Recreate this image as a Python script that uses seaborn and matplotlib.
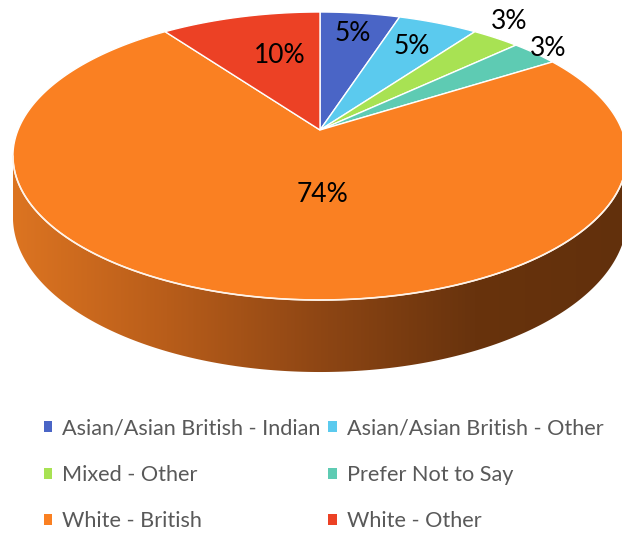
import numpy as np
import matplotlib.pyplot as plt
import seaborn as sns
from matplotlib.patches import Polygon, Patch
from matplotlib.colors import LinearSegmentedColormap

# Ethnicity breakdown (percent of respondents)
categories = ['Asian/Asian British - Indian', 'Asian/Asian British - Other',
              'Mixed - Other', 'Prefer Not to Say', 'White - British', 'White - Other']
shares = [5, 5, 3, 3, 74, 10]
labels = ['5%', '5%', '3%', '3%', '74%', '10%']
colors = ['#4A65C6', '#5BCAEE', '#A8E253', '#5ECBB3', '#FA8022', '#EC4125']

# label placement (radius fraction, angle nudge in degrees)
lab_r = [0.8, 0.75, 1.16, 1.07, 0.43, 0.61]
lab_da = [0, 0, 2.5, 0, 12, -4]

sns.set_style("white")
plt.rcParams['font.family'] = ['Lato', 'DejaVu Sans']

# simple perspective projection of the unit disk (screen pixels, y down)
CX, A_X = 320, 302
A_Y, B_Y, C_P = -115.83, 130, 0.1806
DEPTH = 59


def proj(x, y, z=0.0):
    d = 1 + C_P * y
    return CX + A_X * x / d, (A_Y * y + B_Y) / d + DEPTH * z / d


fig = plt.figure(figsize=(6.22, 5.33), dpi=100)
ax = fig.add_axes([0, 0, 1, 1])
ax.axis('off')

# visible side wall: between the silhouette points sin(t) = -C
t0 = np.pi + np.arcsin(C_P)
t1 = 2 * np.pi - np.arcsin(C_P)
ts = np.linspace(t0, t1, 300)
top = np.array([proj(np.cos(t), np.sin(t)) for t in ts])
bot = np.array([proj(np.cos(t), np.sin(t), 1) for t in ts])
side = Polygon(np.vstack([top, bot[::-1]]), closed=True, facecolor='none', edgecolor='none')
ax.add_patch(side)
side_cmap = LinearSegmentedColormap.from_list(
    'side', ['#DC7421', '#B85D1A', '#8E4614', '#68330D', '#62300C'])
grad = np.linspace(0, 1, 256).reshape(1, -1)
im = ax.imshow(grad, cmap=side_cmap, extent=(top[:, 0].min(), top[:, 0].max(), 400, 100),
               aspect='auto', zorder=1)
im.set_clip_path(side)
ax.set_xlim(0, 622)
ax.set_ylim(533, 0)

# top wedges, clockwise from 12 o'clock
fracs = np.array(shares, dtype=float) / sum(shares)
start = 90.0
handles = []
for i, f in enumerate(fracs):
    end = start - f * 360
    th = np.radians(np.linspace(start, end, max(int(f * 400), 4)))
    pts = [proj(0, 0)] + [proj(np.cos(t), np.sin(t)) for t in th]
    ax.add_patch(Polygon(pts, closed=True, facecolor=colors[i], edgecolor='white',
                         linewidth=1.0, zorder=2))
    mid = np.radians((start + end) / 2 + lab_da[i])
    lx, ly = proj(lab_r[i] * np.cos(mid), lab_r[i] * np.sin(mid))
    ax.text(lx, ly, labels[i], ha='center', va='center', fontsize=19, color='black', zorder=4)
    handles.append(Patch(facecolor=colors[i], edgecolor='none', label=categories[i]))
    start = end

# thin light rim along the front edge
ax.plot(top[:, 0], top[:, 1], color='#FFF3E8', linewidth=1.2, zorder=3)

order = [0, 2, 4, 1, 3, 5]
leg = fig.legend([handles[k] for k in order], [categories[k] for k in order],
                 loc='center', bbox_to_anchor=(0.52, 0.109), ncol=2, frameon=False,
                 fontsize=15.6, handlelength=0.4, handleheight=0.4, handletextpad=0.45,
                 columnspacing=0.35, labelspacing=1.22)
for t in leg.get_texts():
    t.set_color('#595959')

fig.savefig('out.png', dpi=100)
